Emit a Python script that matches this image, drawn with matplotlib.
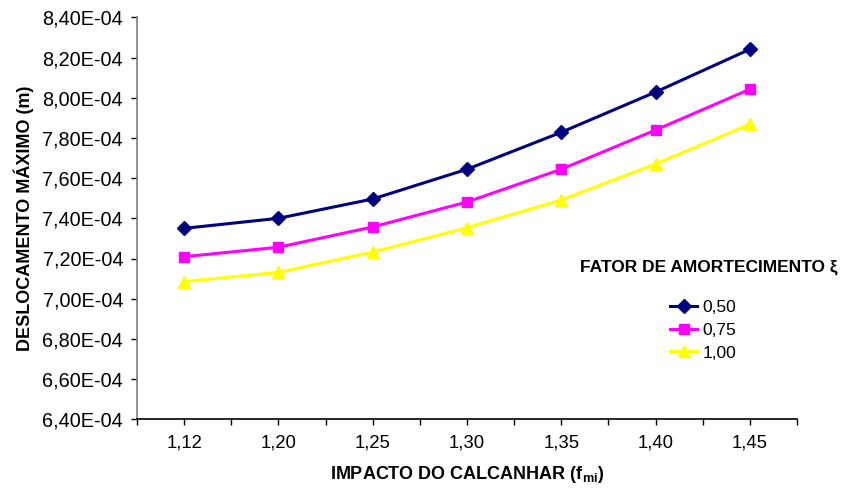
import matplotlib
matplotlib.use("Agg")
import matplotlib.pyplot as plt
from matplotlib.ticker import FuncFormatter, FixedLocator

plt.rcParams['font.family'] = ['Liberation Sans', 'DejaVu Sans']
plt.rcParams['mathtext.fontset'] = 'custom'
plt.rcParams['mathtext.rm'] = 'Liberation Sans:bold'
plt.rcParams['mathtext.it'] = 'Liberation Sans:bold'
plt.rcParams['mathtext.bf'] = 'Liberation Sans:bold'

categories = ['1,12', '1,20', '1,25', '1,30', '1,35', '1,40', '1,45']
serie_050 = [7.350e-4, 7.400e-4, 7.496e-4, 7.644e-4, 7.828e-4, 8.028e-4, 8.241e-4]
serie_075 = [7.209e-4, 7.256e-4, 7.357e-4, 7.481e-4, 7.644e-4, 7.839e-4, 8.042e-4]
serie_100 = [7.085e-4, 7.131e-4, 7.232e-4, 7.353e-4, 7.491e-4, 7.670e-4, 7.868e-4]
series_labels = ['0,50', '0,75', '1,00']
y_ticks = [6.4e-4, 6.6e-4, 6.8e-4, 7.0e-4, 7.2e-4, 7.4e-4, 7.6e-4, 7.8e-4, 8.0e-4, 8.2e-4, 8.4e-4]

fig = plt.figure(figsize=(8.5, 4.88), dpi=100)
ax = fig.add_axes([137/850, 1-419.3/488, (797-137)/850, (419.3-17.3)/488])

x = list(range(len(categories)))
styles = [('#000080', 'D', 7), ('#FF00FF', 's', 7.5), ('#FFFF00', '^', 8.5)]
handles = []
for vals, lab, (c, m, ms) in zip([serie_050, serie_075, serie_100], series_labels, styles):
    h, = ax.plot(x, vals, color=c, marker=m, markersize=ms, linewidth=2.2,
                 markeredgecolor=c, markerfacecolor=c, label=lab, clip_on=False)
    handles.append(h)

ax.set_xlim(-0.5, len(categories) - 0.5)
ax.set_ylim(y_ticks[0], y_ticks[-1])
ax.set_yticks(y_ticks)
ax.yaxis.set_major_formatter(FuncFormatter(lambda v, p: f"{v*1e4:.2f}E-04".replace('.', ',')))
ax.set_xticks(x)
ax.set_xticklabels(categories)
ax.xaxis.set_minor_locator(FixedLocator([i - 0.5 for i in range(len(categories) + 1)]))

for s in ['top', 'right']:
    ax.spines[s].set_visible(False)
ax.spines['left'].set_color('#808080')
ax.spines['left'].set_linewidth(1.2)
ax.spines['bottom'].set_color('black')
ax.spines['bottom'].set_linewidth(1.2)

ax.tick_params(axis='x', which='both', direction='out', length=4, width=1, color='black',
               labelsize=13.3, pad=7)
ax.tick_params(axis='y', which='major', direction='out', length=4, width=1, color='black',
               labelsize=14.3, pad=6)

ax.set_xlabel('IMPACTO DO CALCANHAR (f$_{mi}$)', fontsize=13, fontweight='bold', labelpad=9)
ax.set_ylabel('DESLOCAMENTO MÁXIMO (m)', fontsize=13, fontweight='bold', labelpad=6)

fig.text(709/850, 1-267/488, 'FATOR DE AMORTECIMENTO ξ', fontsize=12.5, fontweight='bold',
         ha='center', va='center')
fig.legend(handles=handles, labels=series_labels, loc='center',
           bbox_to_anchor=(703/850, 1-330/488), frameon=False, borderpad=0,
           fontsize=12.5, handlelength=1.6, handletextpad=0.3, labelspacing=0.45)

fig.savefig('out.png', dpi=100)
